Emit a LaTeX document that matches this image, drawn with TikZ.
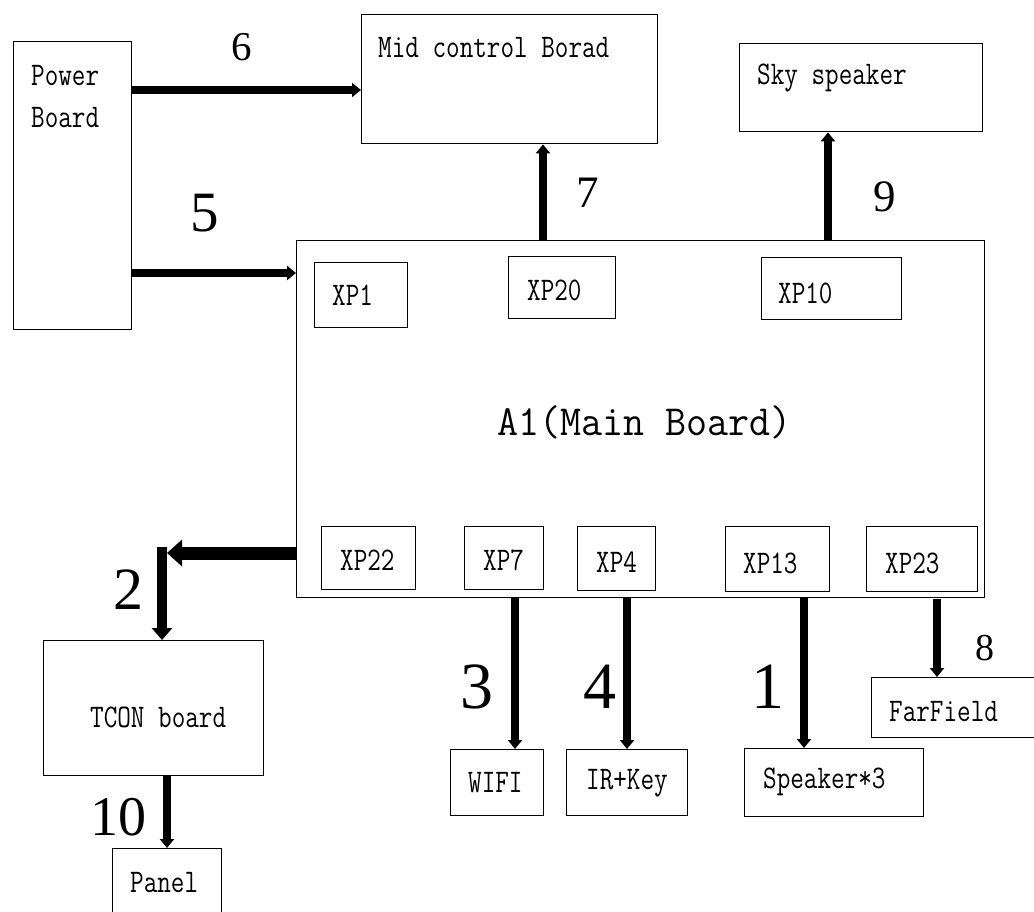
\documentclass[tikz,border=0pt]{standalone}
\usepackage{fontspec}
\usepackage{graphicx}
\usetikzlibrary{arrows.meta,calc}
\newfontfamily\numfont{Liberation Serif}
\newcommand{\lbl}[1]{\scalebox{0.8}[1]{\fontsize{33}{35}\selectfont\ttfamily #1}}
\tikzset{
  box/.style={draw, line width=1.4pt, inner sep=0pt, anchor=north west},
  txt/.style={inner sep=0pt, anchor=west},
  num/.style={inner sep=0pt, font=\numfont},
  conn/.style={line width=7.5pt, -{Triangle[length=9pt,width=14pt]}},
}
\begin{document}
\begin{tikzpicture}[x=1pt,y=-1pt]
\useasboundingbox[fill=white] (0,0) rectangle (1034,911);

% main boxes
\node[box, minimum width=118pt, minimum height=288pt] (pb) at (13,41) {};
\node[box, minimum width=296pt, minimum height=129pt] (mid) at (361,14) {};
\node[box, minimum width=243pt, minimum height=88pt] (sky) at (739,43) {};
\node[box, minimum width=688pt, minimum height=357pt] (mb) at (296,240) {};

% connectors boxes
\node[box, minimum width=93pt, minimum height=65pt] (xp1) at (314,262) {};
\node[box, minimum width=107pt, minimum height=62pt] (xp20) at (508,256) {};
\node[box, minimum width=140pt, minimum height=62pt] (xp10) at (761,257) {};
\node[box, minimum width=94pt, minimum height=63pt] (xp22) at (321,526) {};
\node[box, minimum width=79pt, minimum height=63pt] (xp7) at (464,526) {};
\node[box, minimum width=78pt, minimum height=64pt] (xp4) at (577,526) {};
\node[box, minimum width=104pt, minimum height=65pt] (xp13) at (725,526) {};
\node[box, minimum width=111pt, minimum height=65pt] (xp23) at (866,526) {};

% lower boxes
\node[box, minimum width=220pt, minimum height=135pt] (tcon) at (43,640) {};
\node[box, minimum width=109pt, minimum height=75pt] (panel) at (112,848) {};
\node[box, minimum width=93pt, minimum height=66pt] (wifi) at (450,749) {};
\node[box, minimum width=121pt, minimum height=66pt] (irkey) at (566,749) {};
\node[box, minimum width=179pt, minimum height=68pt] (spk) at (744,748) {};
\node[box, minimum width=175pt, minimum height=60pt] (far) at (871,677) {};

% texts
\node[txt] (tpb1) at (31,76) {\lbl{Power}};
\node[txt] (tpb2) at (31,118) {\lbl{Board}};
\node[txt] (tmid) at (378,48) {\lbl{Mid control Borad}};
\node[txt] (tsky) at (757,78) {\lbl{Sky speaker}};
\node[txt] (tmb) at (497,422) {\scalebox{0.95}[1]{\fontsize{43}{45}\selectfont\ttfamily A1(Main Board)}};
\node[txt] (txp1) at (332,295) {\lbl{XP1}};
\node[txt] (txp20) at (527,290) {\lbl{XP20}};
\node[txt] (txp10) at (778,293) {\lbl{XP10}};
\node[txt] (txp22) at (340,560) {\lbl{XP22}};
\node[txt] (txp7) at (483,560) {\lbl{XP7}};
\node[txt] (txp4) at (596,562) {\lbl{XP4}};
\node[txt] (txp13) at (743,563) {\lbl{XP13}};
\node[txt] (txp23) at (885,563) {\lbl{XP23}};
\node[txt] (ttcon) at (90,717) {\lbl{TCON board}};
\node[txt] (tpanel) at (130,883) {\lbl{Panel}};
\node[txt] (twifi) at (468,783) {\lbl{WIFI}};
\node[txt] (tir) at (586,783) {\lbl{IR+Key}};
\node[txt] (tspk) at (763,782) {\lbl{Speaker*3}};
\node[txt] (tfar) at (889,712) {\lbl{FarField}};

% number labels
\node[num, font=\numfont\fontsize{41}{41}\selectfont] (n6) at (242,47) {6};
\node[num, font=\numfont\fontsize{57}{57}\selectfont] (n5) at (205,213) {5};
\node[num, font=\numfont\fontsize{45}{45}\selectfont] (n7) at (588,193) {7};
\node[num, font=\numfont\fontsize{45}{45}\selectfont] (n9) at (885,197) {9};
\node[num, font=\numfont\fontsize{60}{60}\selectfont] (n2) at (128,590) {2};
\node[num, font=\numfont\fontsize{56}{56}\selectfont] (n10) at (118,817) {10};
\node[num, font=\numfont\fontsize{66}{66}\selectfont] (n3) at (477,687) {3};
\node[num, font=\numfont\fontsize{66}{66}\selectfont] (n4) at (600,687) {4};
\node[num, font=\numfont\fontsize{66}{66}\selectfont] (n1) at (768,687) {1};
\node[num, font=\numfont\fontsize{38}{38}\selectfont] (n8) at (985,648) {8};

% connector start points
\coordinate (c6) at (131,90);
\coordinate (c5) at (131,273);
\coordinate (c7) at (543,240);
\coordinate (c9) at (828,240);
\coordinate (c2) at (296,553);
\coordinate (k2) at (162,553);
\coordinate (k2t) at (162,547);
\coordinate (c10) at (167,775);
\coordinate (c3) at (515,597);
\coordinate (c4) at (627,597);
\coordinate (c1) at (804,597);
\coordinate (c8) at (937,599);

% connectors
\draw[conn] (c6) -- (c6 -| mid.west);
\draw[conn] (c5) -- (c5 -| mb.west);
\draw[conn] (c7) -- (c7 |- mid.south);
\draw[conn] (c9) -- (c9 |- sky.south);
\draw[line width=13pt, -{Triangle[length=15pt,width=26pt]}] (c2) -- ($(k2)+(5,0)$);
\draw[line width=10pt, -{Triangle[length=12pt,width=20pt]}] (k2t) -- (k2t |- tcon.north);
\draw[conn] (c10) -- (c10 |- panel.north);
\draw[conn] (c3) -- (c3 |- wifi.north);
\draw[conn] (c4) -- (c4 |- irkey.north);
\draw[conn] (c1) -- (c1 |- spk.north);
\draw[conn] (c8) -- (c8 |- far.north);
\end{tikzpicture}
\end{document}
